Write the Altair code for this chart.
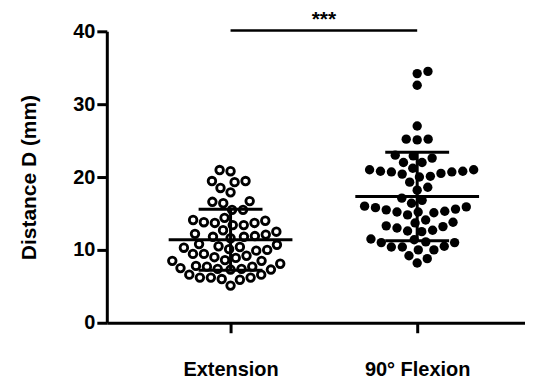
import math
import altair as alt
import pandas as pd

# ---- data ----
groups = ["Extension", "90° Flexion"]
extension = [
    20.96, 20.8, 19.45, 19.3, 19.45, 18.5, 17.9, 16.6, 16.4, 16.7, 15.5, 15.5,
    13.4, 14.1, 13.8, 13.7, 13.7, 14.0, 14.4, 13.4,
    12.7, 12.2, 11.9, 11.8, 11.6, 11.8, 12.1, 12.5,
    10.7, 10.4, 10.1, 10.0, 9.45, 9.0, 8.9, 9.2, 9.45, 9.9, 10.3, 10.5, 10.8,
    8.6, 8.5, 7.8, 7.7, 7.4, 7.3, 7.3, 7.4, 7.5, 7.7, 8.1, 8.5,
    6.6, 6.0, 5.9, 6.2, 6.2, 6.2, 6.6, 5.1,
]
flexion = [
    34.5, 34.2, 32.6, 27.0, 25.2, 25.2, 25.1, 22.9, 22.0, 23.0, 22.0, 22.6,
    21.0, 20.8, 20.7, 20.4, 20.1, 21.2, 20.0, 20.5, 20.7, 20.8, 21.0,
    19.3, 18.2, 18.6, 16.8, 17.1,
    16.4, 15.9, 15.5, 15.2, 15.1, 14.8, 15.2, 15.3, 15.6, 15.8, 16.0,
    14.1, 13.7, 13.2, 12.7, 12.5, 12.6, 13.0, 13.3, 13.8,
    11.4, 11.0, 10.4, 10.4, 10.5, 11.0, 11.5, 11.1,
    10.0, 9.2, 10.0, 8.2, 8.8,
]
y_ticks = [0, 10, 20, 30, 40]
significance = "***"

# ---- layout constants ----
W, H = 419, 292
Y_MAX = 40
X0, X1 = 0.337, 0.337 + W / 187.0
PX_X = W / (X1 - X0)   # pixels per x unit
PX_Y = H / Y_MAX       # pixels per y unit


def swarm(values, d):
    """Greedy beeswarm layout: returns horizontal pixel offsets."""
    order = sorted(range(len(values)), key=lambda i: values[i])
    placed = []
    xs = [0.0] * len(values)
    flip = 1
    for i in order:
        y = values[i] * PX_Y
        cands = [0.0]
        for px, py in placed:
            dy = abs(py - y)
            if dy < d:
                dx = math.sqrt(d * d - dy * dy)
                cands += [px + dx, px - dx]
        ok = [c for c in cands
              if all((c - px) ** 2 + (y - py) ** 2 >= d * d - 1e-6 for px, py in placed)]
        best_abs = min(abs(c) for c in ok)
        tied = [c for c in ok if abs(abs(c) - best_abs) < 1e-6]
        best = max(tied) if flip > 0 else min(tied)
        if best != 0:
            flip = -flip
        placed.append((best, y))
        xs[i] = best
    return xs


rows = []
for gi, (name, vals, d) in enumerate([(groups[0], extension, 11.0), (groups[1], flexion, 11.0)]):
    offs = swarm(vals, d)
    for v, o in zip(vals, offs):
        rows.append({"group": name, "pos": gi + 1, "x": gi + 1 + o / PX_X, "value": v})
df = pd.DataFrame(rows)

FONT = "Liberation Sans"
x_scale = alt.Scale(domain=[X0, X1], nice=False, zero=False)
y_scale = alt.Scale(domain=[0, Y_MAX], nice=False)

label_expr = "datum.value == 1 ? '%s' : '%s'" % (groups[0], groups[1])

base = alt.Chart(df)

pts_open = base.transform_filter(alt.datum.pos == 1).mark_point(
    shape="circle", filled=False, stroke="black", strokeWidth=2.8, size=58, opacity=1
).encode(
    x=alt.X("x:Q", scale=x_scale,
            axis=alt.Axis(values=[1, 2], labelExpr=label_expr, title=None, grid=False,
                          domainColor="black", domainWidth=3, tickColor="black",
                          tickWidth=3, tickSize=10, labelFont=FONT, labelFontSize=20,
                          labelFontWeight="bold", labelColor="black", labelPadding=27)),
    y=alt.Y("value:Q", scale=y_scale,
            axis=alt.Axis(values=y_ticks, title="Distance D (mm)", grid=False,
                          domainColor="black", domainWidth=3, tickColor="black",
                          tickWidth=3, tickSize=10, labelFont=FONT, labelFontSize=20,
                          labelFontWeight="bold", labelColor="black", labelPadding=2,
                          titleFont=FONT, titleFontSize=21, titleFontWeight="bold",
                          titleColor="black", titlePadding=33)),
)

pts_fill = base.transform_filter(alt.datum.pos == 2).mark_point(
    shape="circle", filled=True, color="black", size=88, opacity=1
).encode(x=alt.X("x:Q", scale=x_scale), y=alt.Y("value:Q", scale=y_scale))

stats = base.transform_aggregate(
    m="mean(value)", sd="stdev(value)", groupby=["pos"]
).transform_calculate(
    lo="datum.m - datum.sd", hi="datum.m + datum.sd",
    mx1="datum.pos - %f" % (62 / PX_X), mx2="datum.pos + %f" % (62 / PX_X),
    sx1="datum.pos - %f" % (32 / PX_X), sx2="datum.pos + %f" % (32 / PX_X),
)

mean_rule = stats.mark_rule(color="black", strokeWidth=3).encode(
    x=alt.X("mx1:Q", scale=x_scale), x2="mx2:Q", y=alt.Y("m:Q", scale=y_scale))
sd_hi = stats.mark_rule(color="black", strokeWidth=3).encode(
    x=alt.X("sx1:Q", scale=x_scale), x2="sx2:Q", y=alt.Y("hi:Q", scale=y_scale))
sd_lo = stats.mark_rule(color="black", strokeWidth=3).encode(
    x=alt.X("sx1:Q", scale=x_scale), x2="sx2:Q", y=alt.Y("lo:Q", scale=y_scale))
sd_v = stats.mark_rule(color="black", strokeWidth=3).encode(
    x=alt.X("pos:Q", scale=x_scale), y=alt.Y("lo:Q", scale=y_scale), y2="hi:Q")

sig_df = pd.DataFrame({"x1": [1], "x2": [2], "y": [40.1], "xm": [1.5], "yt": [41.5], "t": [significance]})
sig_rule = alt.Chart(sig_df).mark_rule(color="black", strokeWidth=2.5).encode(
    x=alt.X("x1:Q", scale=x_scale), x2="x2:Q", y=alt.Y("y:Q", scale=y_scale))
sig_text = alt.Chart(sig_df).mark_text(font=FONT, fontSize=21, fontWeight="bold", color="black",
                                       baseline="middle").encode(
    x=alt.X("xm:Q", scale=x_scale), y=alt.Y("yt:Q", scale=y_scale), text="t:N")

chart = alt.layer(pts_open, pts_fill, mean_rule, sd_hi, sd_lo, sd_v, sig_rule, sig_text).properties(
    width=W, height=H, padding={"left": 10, "top": 1, "right": 0, "bottom": 5}
).configure_view(strokeWidth=0)

chart.save("out.html", embed_options={"renderer": "svg", "actions": False})
